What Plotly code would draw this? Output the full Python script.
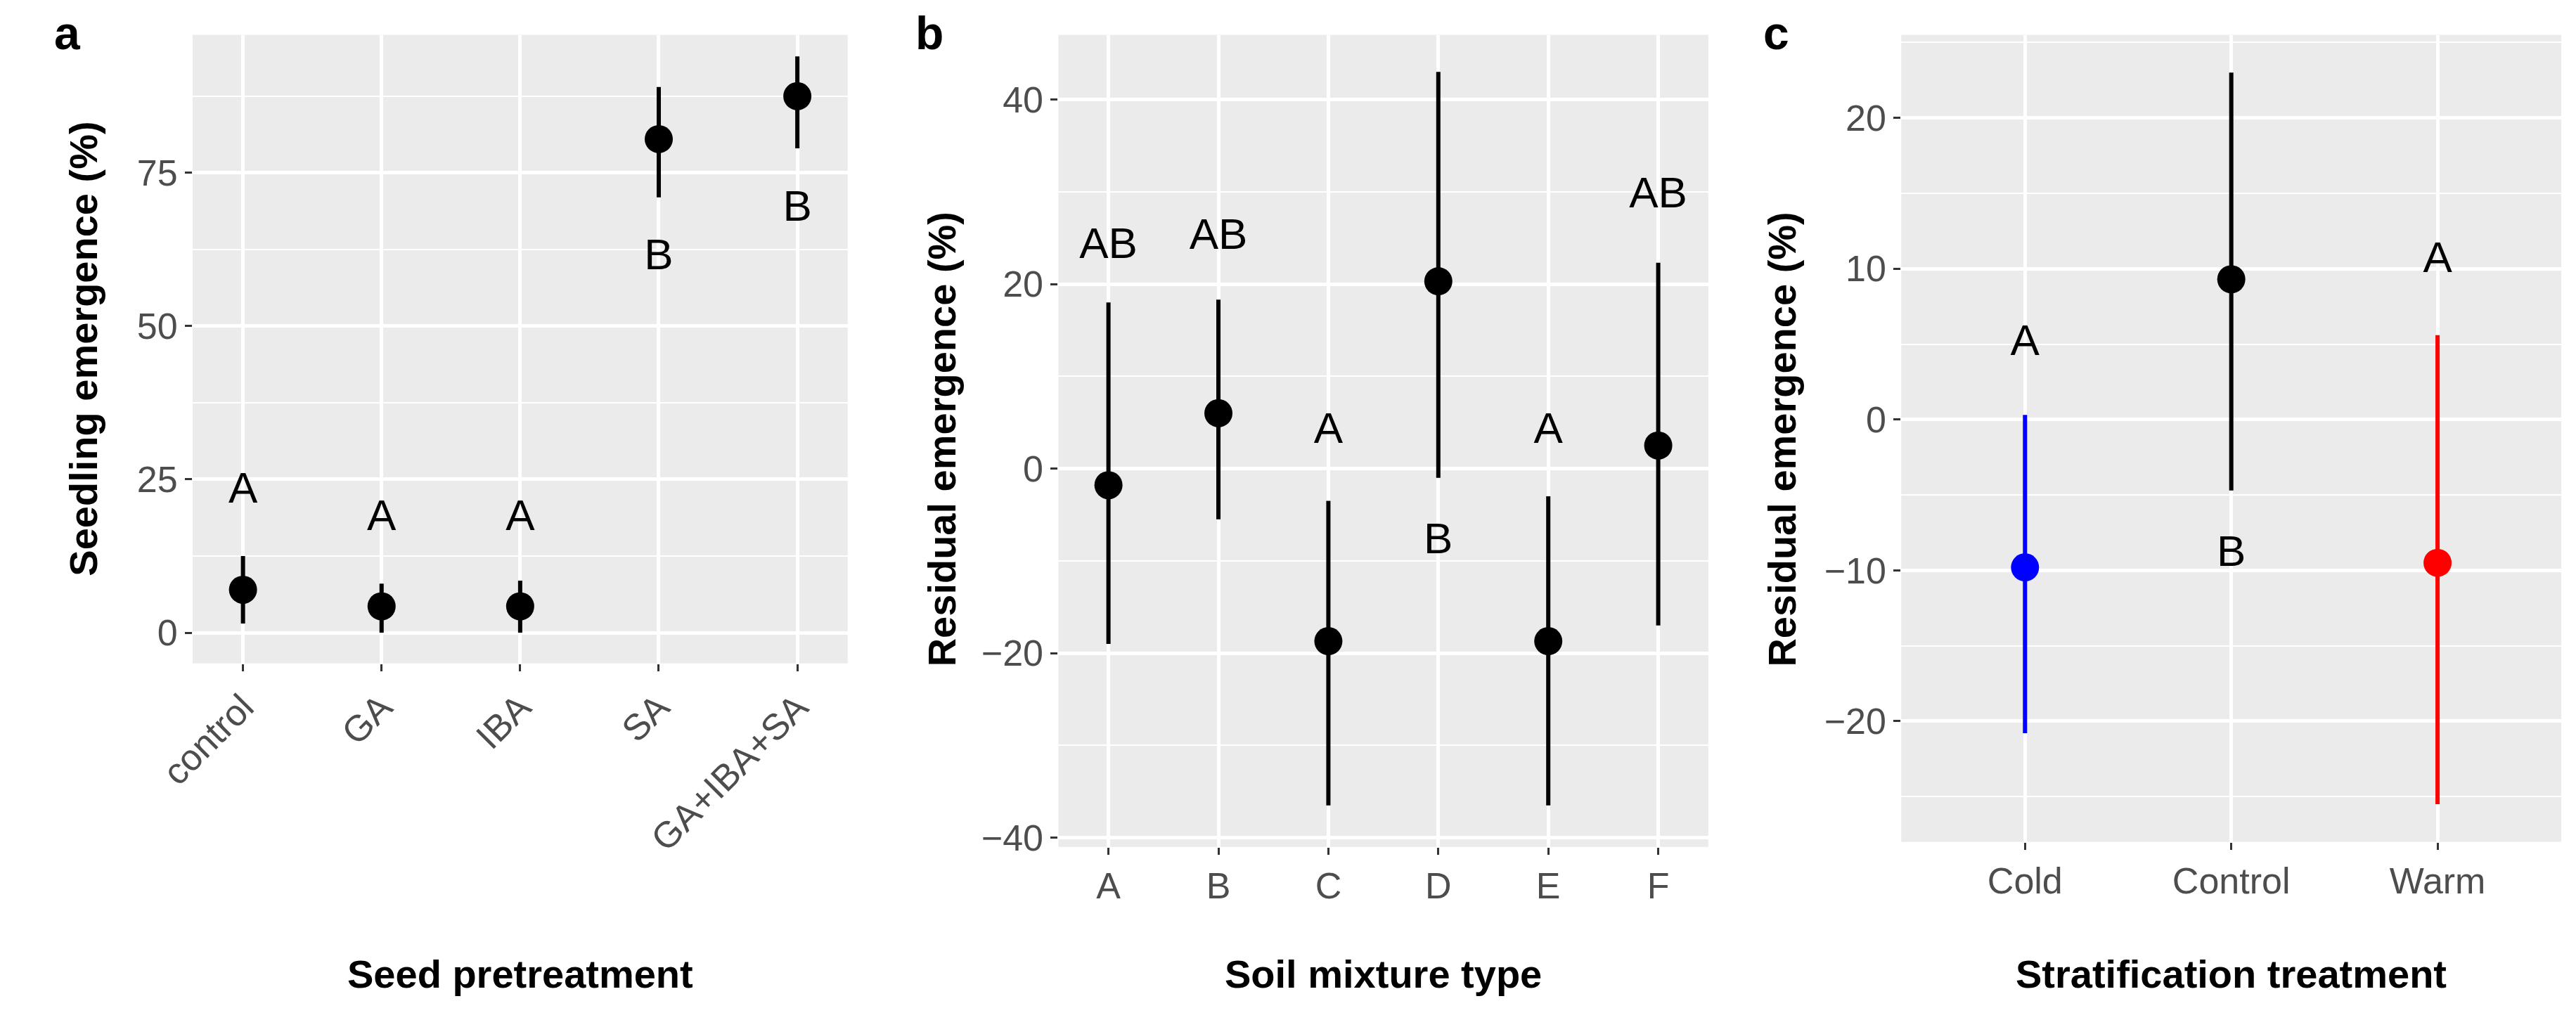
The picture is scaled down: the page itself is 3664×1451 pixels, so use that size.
import plotly.graph_objects as go

# Panel a
a_cats = ["control", "GA", "IBA", "SA", "GA+IBA+SA"]
a_mean = [7.0, 4.3, 4.3, 80.5, 87.5]
a_lo = [1.5, 0.0, 0.0, 71.0, 79.0]
a_hi = [12.5, 8.0, 8.5, 89.0, 94.0]
a_letters = ["A", "A", "A", "B", "B"]
a_letter_y = [23, 18.5, 18.5, 61, 69]

# Panel b
b_cats = ["A", "B", "C", "D", "E", "F"]
b_mean = [-1.8, 6.0, -18.7, 20.3, -18.7, 2.5]
b_lo = [-19.0, -5.5, -36.5, -1.0, -36.5, -17.0]
b_hi = [18.0, 18.3, -3.5, 43.0, -3.0, 22.3]
b_letters = ["AB", "AB", "A", "B", "A", "AB"]
b_letter_y = [24, 25, 4, -8, 4, 29.5]

# Panel c
c_cats = ["Cold", "Control", "Warm"]
c_mean = [-9.8, 9.3, -9.5]
c_lo = [-20.8, -4.7, -25.5]
c_hi = [0.3, 23.0, 5.6]
c_colors = ["#0000FF", "#000000", "#FF0000"]
c_letters = ["A", "B", "A"]
c_letter_y = [5, -9, 10.5]

FONT = "Liberation Sans"
fig = go.Figure()

def add_points(cats, mean, lo, hi, colors, xa, ya):
    for i, c in enumerate(cats):
        fig.add_trace(go.Scatter(
            x=[c], y=[mean[i]], mode="markers", xaxis=xa, yaxis=ya,
            marker=dict(size=40, color=colors[i]), showlegend=False,
            error_y=dict(type="data", symmetric=False, array=[hi[i] - mean[i]],
                         arrayminus=[mean[i] - lo[i]], width=0, thickness=6,
                         color=colors[i])))

def add_letters(cats, ys, letters, xa, ya):
    fig.add_trace(go.Scatter(x=cats, y=ys, mode="text", text=letters, xaxis=xa, yaxis=ya,
                             textfont=dict(size=62, color="black", family=FONT),
                             showlegend=False))

add_points(a_cats, a_mean, a_lo, a_hi, ["black"] * 5, "x", "y")
add_letters(a_cats, a_letter_y, a_letters, "x", "y")
add_points(b_cats, b_mean, b_lo, b_hi, ["black"] * 6, "x2", "y2")
add_letters(b_cats, b_letter_y, b_letters, "x2", "y2")
add_points(c_cats, c_mean, c_lo, c_hi, c_colors, "x3", "y3")
add_letters(c_cats, c_letter_y, c_letters, "x3", "y3")

tick = dict(size=52, color="#4D4D4D", family=FONT)
def xax(dom, angle=0):
    return dict(domain=dom, showgrid=True, gridcolor="white", gridwidth=5,
                tickfont=tick, ticks="outside", ticklen=10, tickcolor="#333333",
                tickwidth=3, tickangle=angle, zeroline=False)
def yax(dom, rng, dtick, anchor):
    return dict(domain=dom, range=rng, dtick=dtick, anchor=anchor, showgrid=True,
                gridcolor="white", gridwidth=5, tickfont=tick, ticks="outside",
                ticklen=10, tickcolor="#333333", tickwidth=3, zeroline=False,
                minor=dict(dtick=dtick / 2, showgrid=True, gridcolor="white",
                           gridwidth=2, ticks=""))

fig.update_layout(
    width=3664, height=1451, paper_bgcolor="white", plot_bgcolor="#EBEBEB",
    margin=dict(l=0, r=0, t=0, b=0),
    xaxis=dict(**xax([0.059, 0.317], -45), anchor="y"),
    yaxis=yax([0.348, 0.971], [-5, 97.5], 25, "x"),
    xaxis2=dict(**xax([0.400, 0.656]), anchor="y2"),
    yaxis2=yax([0.166, 0.971], [-41, 47], 20, "x2"),
    xaxis3=dict(**xax([0.732, 0.992]), anchor="y3", range=[-0.6, 2.6]),
    yaxis3=yax([0.171, 0.971], [-28, 25.5], 10, "x3"),
)

title_font = dict(size=56, color="black", family=FONT)
ann = [
    dict(text="<b>Seed pretreatment</b>", x=0.188, y=0.04),
    dict(text="<b>Soil mixture type</b>", x=0.528, y=0.04),
    dict(text="<b>Stratification treatment</b>", x=0.862, y=0.04),
]
for a in ann:
    fig.add_annotation(xref="paper", yref="paper", showarrow=False, font=title_font,
                       xanchor="center", yanchor="middle", **a)
for x, y, t in [(0.016, 0.66, "Seedling emergence (%)"), (0.354, 0.57, "Residual emergence (%)"),
                (0.685, 0.57, "Residual emergence (%)")]:
    fig.add_annotation(xref="paper", yref="paper", x=x, y=y, text=f"<b>{t}</b>", textangle=-90,
                       showarrow=False, font=title_font, xanchor="center", yanchor="middle")
for x, t in [(0.004, "a"), (0.343, "b"), (0.677, "c")]:
    fig.add_annotation(xref="paper", yref="paper", x=x, y=1.0, text=f"<b>{t}</b>",
                       showarrow=False, font=dict(size=66, color="black", family=FONT),
                       xanchor="left", yanchor="top")

fig.write_html("out.html")
